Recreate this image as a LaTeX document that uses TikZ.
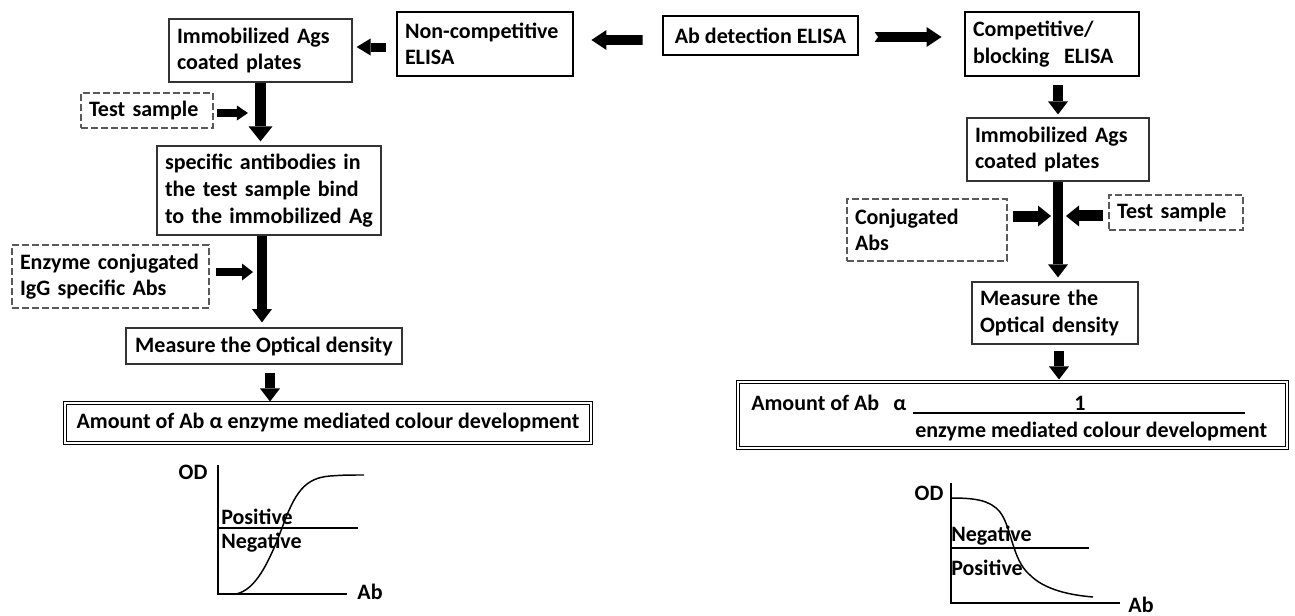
\documentclass[tikz,border=0pt]{standalone}
\usepackage{fontspec}
\setmainfont{Carlito}
\usetikzlibrary{arrows.meta,calc}
\begin{document}
\begin{tikzpicture}[x=0.75pt,y=-0.75pt,
  every node/.style={font=\fontsize{16.5}{20}\selectfont\bfseries, inner sep=0pt},
  thinbox/.style={draw=black!80, line width=0.9pt, inner xsep=6pt, align=left},
  dashbox/.style={draw=black!65, line width=0.8pt, dash pattern=on 5pt off 2.5pt, inner xsep=6pt, align=left},
  thickbox/.style={draw=black, line width=2.2pt, inner xsep=6pt, align=left},
  dblbox/.style={draw=black, double=white, double distance=1.5pt, line width=0.8pt},
  blk/.style n args={3}{line width=#1, -{Triangle[width=#2,length=#3,line width=0pt]}},
  axisline/.style={line width=1.1pt},
  notch/.style={fill=white}
]
\useasboundingbox (0,0) rectangle (1295,615);

% top row
\node[thickbox, text width=120pt, minimum height=48pt] (nc) at (485,44) {\mbox{Non-competitive}\\ELISA};
\node[thickbox, align=center, minimum width=146.25pt, minimum height=29.25pt] (ab) at (760.5,35.5) {Ab detection ELISA};
\node[thickbox, text width=118.5pt, minimum height=48pt] (cb) at (1052,44) {Competitive/\\blocking\ \ ELISA};

% left column
\node[thinbox, text width=125.25pt, minimum height=47.25pt] (imL) at (260.5,50.5) {Immobilized Ags\\coated plates};
\node[dashbox, text width=87pt, minimum height=26.25pt] (tsL) at (147,110.5) {Test sample};
\node[thinbox, text width=156pt, minimum height=66.75pt] (spL) at (269,190.5) {specific antibodies in\\the test sample bind\\to the immobilized Ag};
\node[dashbox, text width=135.75pt, minimum height=47.25pt] (enL) at (110.5,276.5) {Enzyme conjugated\\IgG specific Abs};
\node[thinbox, align=center, minimum width=207pt, minimum height=27pt] (msL) at (264,346) {Measure the Optical density};
\node[dblbox, minimum width=394.5pt, minimum height=30pt] (amL) at (328,423) {Amount of Ab α enzyme mediated colour development};

% right column
\node[thinbox, text width=124.5pt, minimum height=47.25pt] (imR) at (1058,149.5) {Immobilized Ags\\coated plates};
\node[dashbox, text width=108pt, minimum height=46.5pt] (caR) at (927,230) {Conjugated\\Abs};
\node[dashbox, text width=88.5pt, minimum height=26.25pt] (tsR) at (1176,212.5) {Test sample};
\node[thinbox, text width=112.5pt, minimum height=46.5pt] (msR) at (1055,313) {Measure the\\Optical density};
\node[dblbox, minimum width=411.75pt, minimum height=49.5pt] (amR) at (1012.5,415) {};
\node[anchor=base west] (amR1) at (751,410) {Amount of Ab};
\node[anchor=base west] (amR2) at (893,410) {α};
\node[anchor=base] (amR3) at (1080,410) {1};
\node[anchor=base west] (amR4) at (915,437) {enzyme mediated colour development};
\coordinate (fracA) at (913,413);
\coordinate (fracB) at (1245,413);
\draw[line width=1.1pt] (fracA) -- (fracB);

% top arrows
\draw[blk={6.75pt}{12.75pt}{10.5pt}, shorten <=7.5pt, shorten >=3pt]
  ([yshift=-2.25pt]nc.west) -- ([yshift=-2.25pt]nc.west -| imL.east);
\draw[blk={7.5pt}{15pt}{11.25pt}, shorten <=13.5pt, shorten >=12.75pt]
  ([yshift=-3.375pt]ab.west) -- ([yshift=-3.375pt]ab.west -| nc.east);
\fill[notch] ($(ab.west)+(-18.8,-1.5)$) -- ($(ab.west)+(-14.5,4.5)$) -- ($(ab.west)+(-18.8,10.5)$) -- cycle;
\draw[blk={7.5pt}{15pt}{11.25pt}, shorten <=11.25pt, shorten >=16.5pt]
  ([yshift=-1.125pt]ab.east) -- ([yshift=-1.125pt]ab.east -| cb.west);
\fill[notch] ($(ab.east)+(14.2,-4.5)$) -- ($(ab.east)+(18.5,1.5)$) -- ($(ab.east)+(14.2,7.5)$) -- cycle;

% left vertical arrows
\draw[blk={8.25pt}{18pt}{11.25pt}, shorten >=3pt] (imL.south) -- (imL.south |- spL.north);
\draw[blk={7.5pt}{15pt}{10pt}, shorten >=3.75pt]
  ([xshift=1.1pt]spL.south -| imL.south) -- ([xshift=1.1pt]msL.north -| imL.south);
\draw[blk={7.5pt}{15pt}{9.75pt}, shorten <=6pt, shorten >=0.75pt]
  ([xshift=4.5pt]msL.south) -- ([xshift=4.5pt]msL.south |- amL.north);
\draw[blk={6pt}{11.25pt}{8.25pt}, shorten <=2.25pt, shorten >=9.4pt]
  ([yshift=-1.875pt]tsL.east) -- ([yshift=-1.875pt]tsL.east -| imL.south);
\draw[blk={6.5pt}{12.75pt}{8.25pt}, shorten <=4.5pt, shorten >=5.6pt]
  ([yshift=3.375pt]enL.east) -- ([yshift=3.375pt]enL.east -| imL.south);

% right arrows
\draw[blk={8pt}{15pt}{9.75pt}, shorten <=6pt, shorten >=2.25pt] (cb.south -| imR.north) -- (imR.north);
\draw[blk={7.5pt}{15pt}{9.75pt}, shorten >=3pt] (imR.south) -- (imR.south |- msR.north);
\draw[blk={7.5pt}{15pt}{9.75pt}, shorten <=4.5pt, shorten >=1.5pt]
  ([xshift=3pt]msR.south) -- ([xshift=3pt]msR.south |- amR.north);
\draw[blk={8.25pt}{15.75pt}{9.75pt}, shorten <=3.75pt, shorten >=5.25pt]
  ([yshift=10.5pt]caR.east) -- ([yshift=10.5pt]caR.east -| imR.south);
\draw[blk={8.25pt}{15.75pt}{9.75pt}, shorten <=3.75pt, shorten >=6pt]
  ([yshift=-2.6pt]tsR.west) -- ([yshift=-2.6pt]tsR.west -| imR.south);

% left graph
\draw[axisline] (218,465) -- (218,594) -- (347,594);
\draw[axisline] (218,528) -- (358,528);
\draw[axisline] (236,594) .. controls (255,590) and (268,565) .. (282,528)
  .. controls (295,492) and (305,478) .. (330,476) .. controls (345,475) .. (364,475);
\node (odL) at (193,472) {OD};
\node (abL) at (370,592) {Ab};
\node[anchor=west] (posL) at (221,517) {Positive};
\node[anchor=west] (negL) at (221,543) {Negative};

% right graph
\draw[axisline] (951,483) -- (951,603) -- (1120,603);
\draw[axisline] (951,548) -- (1089,548);
\draw[axisline] (951,498) .. controls (975,498) and (990,500) .. (1000,512)
  .. controls (1012,528) and (1012,560) .. (1030,575) .. controls (1045,590) and (1070,595) .. (1093,597);
\node (odR) at (929,493) {OD};
\node[anchor=base] (abR) at (1141,612) {Ab};
\node[anchor=west] (negR) at (951,536) {Negative};
\node[anchor=west] (posR) at (951,568) {Positive};
\end{tikzpicture}
\end{document}
